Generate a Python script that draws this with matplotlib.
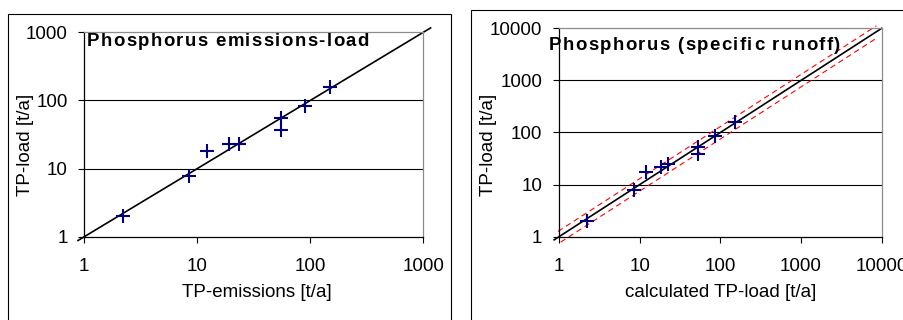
import matplotlib
matplotlib.use("Agg")
import matplotlib.pyplot as plt
from matplotlib.patches import Rectangle
import numpy as np

plt.rcParams['font.family'] = ['Liberation Sans', 'DejaVu Sans']

W, H = 904, 320

# left panel: TP-emissions vs observed TP-load
emis = [2.2, 8.5, 12.3, 19.2, 23.2, 55, 55, 90, 149]
load_l = [2.0, 7.8, 18.3, 23, 23, 55, 37, 84, 156]
ticks_l = [1, 10, 100, 1000]

# right panel: calculated TP-load vs observed TP-load
calc = [2.2, 8.5, 12.1, 18.5, 22.6, 53, 53, 85, 151]
load_r = [2.0, 7.9, 17.2, 22, 24.5, 53, 38.6, 87, 161]
ticks_r = [1, 10, 100, 1000, 10000]
band_hi = 1.3
band_lo = 0.75

fig = plt.figure(figsize=(W / 100, H / 100), dpi=100)

# outer frames (chart borders)
fig.patches.append(Rectangle((8 / W, -0.1), 443 / W, 1.1 - 14 / H, transform=fig.transFigure,
                             fill=False, ec='black', lw=0.8))
fig.patches.append(Rectangle((471 / W, -0.1), 0.5, 1.1 - 10 / H, transform=fig.transFigure,
                             fill=False, ec='black', lw=0.8))

ax1 = fig.add_axes([84.3 / W, 1 - 236.7 / H, 339 / W, 204.4 / H])
ax2 = fig.add_axes([559 / W, 1 - 236.7 / H, 322.7 / W, 208.4 / H])


def style(ax, ticks):
    ax.set_xscale('log')
    ax.set_yscale('log')
    ax.set_xlim(ticks[0], ticks[-1])
    ax.set_ylim(ticks[0], ticks[-1])
    ax.set_xticks(ticks)
    ax.set_yticks(ticks)
    ax.set_xticklabels([str(t) for t in ticks])
    ax.set_yticklabels([str(t) for t in ticks])
    ax.minorticks_off()
    ax.tick_params(axis='both', direction='out', length=4.5, width=0.8, labelsize=13.5)
    ax.tick_params(axis='x', pad=10.5)
    ax.tick_params(axis='y', pad=7.5)
    for s in ['left', 'bottom']:
        ax.spines[s].set_color('black')
        ax.spines[s].set_linewidth(0.9)
    for s in ['top', 'right']:
        ax.spines[s].set_color('#8c8c8c')
        ax.spines[s].set_linewidth(0.9)
    for t in ticks[1:-1]:
        ax.axhline(t, color='black', lw=0.8, zorder=1)


style(ax1, ticks_l)
style(ax2, ticks_r)

# 1:1 lines
x1 = np.array([0.88, 1160])
ax1.plot(x1, x1, color='black', lw=1.2, clip_on=False, zorder=2)
x2 = np.array([0.87, 10000])
ax2.plot(x2, x2, color='black', lw=1.2, clip_on=False, zorder=2)

# +/- band
xh = np.array([0.97, 8600])
ax2.plot(xh, xh * band_hi, color='red', lw=0.8, dashes=(5, 3.5), clip_on=False, zorder=2)
xl = np.array([1.05, 8500])
ax2.plot(xl, xl * band_lo, color='red', lw=0.8, dashes=(5, 3.5), clip_on=False, zorder=2)

ax1.plot(emis, load_l, '+', color='#000080', ms=9.5, mew=1.5, zorder=3, clip_on=False)
ax2.plot(calc, load_r, '+', color='#000080', ms=9.5, mew=1.5, zorder=3, clip_on=False)

ax1.set_xlabel('TP-emissions [t/a]', fontsize=13.5)
ax1.set_ylabel('TP-load [t/a]', fontsize=13.5)
ax2.set_xlabel('calculated TP-load [t/a]', fontsize=13.5)
ax2.set_ylabel('TP-load [t/a]', fontsize=13.5)
for ax, xc, xy, yx, yy in [(ax1, 0.508, -0.275, -0.172, 0.449), (ax2, 0.502, -0.27, -0.217, 0.44)]:
    ax.xaxis.set_label_coords(xc, xy)
    ax.xaxis.label.set_va('center')
    ax.yaxis.set_label_coords(yx, yy)
    ax.yaxis.label.set_va('center')


def spaced_title(x_px, base_px, s, size, track):
    r = fig.canvas.get_renderer()
    x = x_px
    for ch in s:
        if ch == ' ':
            x += 0.278 * size * 100 / 72 + track
            continue
        t = fig.text(x / W, 1 - base_px / H, ch, fontsize=size, fontweight='bold', va='baseline')
        x += t.get_window_extent(r).width + track


spaced_title(87, 46.5, 'Phosphorus emissions-load', 13.4, 1.4)
spaced_title(549, 49.5, 'Phosphorus (specific runoff)', 13.4, 1.4)

fig.savefig('out.png', dpi=100)
